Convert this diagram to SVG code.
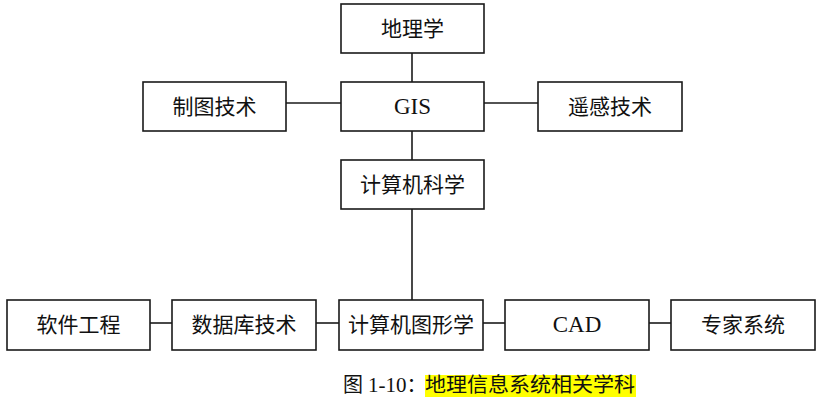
<svg xmlns="http://www.w3.org/2000/svg" width="822" height="400" viewBox="0 0 822 400">
<style>
.box{fill:#fff;stroke:#1a1a1a;stroke-width:1.6}
.lbl{font-family:"Liberation Serif","Noto Sans CJK SC",serif;font-size:21px;fill:#111;text-anchor:middle;dominant-baseline:central}
.lat{font-size:23px}
.con{stroke:#1a1a1a;stroke-width:1.6;fill:none}
.cap{font-family:"Liberation Serif","Noto Sans CJK SC",serif;font-size:20px;fill:#111}
</style>
<rect width="822" height="400" fill="#fff"/>
<g id="connectors">
<line class="con" x1="412" y1="53" x2="412" y2="82"/>
<line class="con" x1="412" y1="131" x2="412" y2="160"/>
<line class="con" x1="412" y1="209" x2="412" y2="300"/>
<line class="con" x1="286" y1="103" x2="341" y2="103"/>
<line class="con" x1="484" y1="103" x2="538" y2="103"/>
<line class="con" x1="150" y1="323" x2="172" y2="323"/>
<line class="con" x1="316" y1="323" x2="339" y2="323"/>
<line class="con" x1="483" y1="323" x2="505" y2="323"/>
<line class="con" x1="649" y1="323" x2="671" y2="323"/>
</g>
<g id="dili"><rect class="box" x="341" y="4" width="143" height="49"/><text class="lbl" x="412.5" y="28.5">地理学</text></g>
<g id="gis"><rect class="box" x="341" y="82" width="143" height="49"/><text class="lbl lat" x="412.5" y="106">GIS</text></g>
<g id="jisuanjikexue"><rect class="box" x="341" y="160" width="143" height="49"/><text class="lbl" x="412.5" y="184.5">计算机科学</text></g>
<g id="zhitu"><rect class="box" x="143" y="82" width="143" height="49"/><text class="lbl" x="214.5" y="106.5">制图技术</text></g>
<g id="yaogan"><rect class="box" x="538" y="82" width="144" height="49"/><text class="lbl" x="610" y="106.5">遥感技术</text></g>
<g id="ruanjian"><rect class="box" x="7" y="300" width="143" height="50"/><text class="lbl" x="78.5" y="325">软件工程</text></g>
<g id="shujuku"><rect class="box" x="172" y="300" width="144" height="50"/><text class="lbl" x="244" y="325">数据库技术</text></g>
<g id="tuxingxue"><rect class="box" x="339" y="300" width="144" height="50"/><text class="lbl" x="411" y="325">计算机图形学</text></g>
<g id="cad"><rect class="box" x="505" y="300" width="144" height="50"/><text class="lbl lat" x="577" y="324.5">CAD</text></g>
<g id="zhuanjia"><rect class="box" x="671" y="300" width="144" height="50"/><text class="lbl" x="743" y="325">专家系统</text></g>
<g id="caption">
<rect x="425" y="375" width="211" height="22" fill="#ffff00"/>
<text class="cap" x="343" y="392">图 <tspan font-size="21">1-10</tspan>：</text>
<text class="cap" x="425" y="392" textLength="210" lengthAdjust="spacingAndGlyphs">地理信息系统相关学科</text>
</g>
</svg>
